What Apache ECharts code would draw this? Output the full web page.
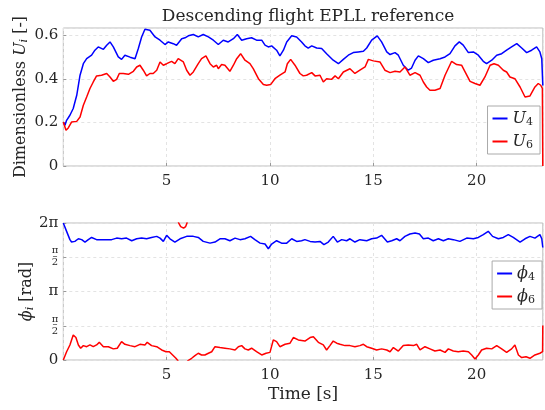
<!DOCTYPE html>
<html>
<head>
<meta charset="utf-8">
<script src="https://cdn.jsdelivr.net/npm/echarts@6/dist/echarts.min.js"></script>
<style>
  html, body { margin: 0; padding: 0; background: #fff; }
  #chart { width: 545px; height: 410px; }
</style>
</head>
<body>
<div id="chart"></div>
<script>
// top panel: dimensionless amplitude U4 / U6 (time in s)
var tU4 = [0, 0.08, 0.16, 0.32, 0.48, 0.65, 0.81, 0.97, 1.13, 1.37, 1.53, 1.69, 1.94, 2.10, 2.26, 2.42, 2.66, 2.82, 2.98, 3.23, 3.47, 3.63, 3.79, 3.95, 4.19, 4.44, 4.68, 4.92, 5.08, 5.32, 5.48, 5.73,
  5.89, 6.05, 6.29, 6.53, 6.77, 7.02, 7.26, 7.50, 7.74, 7.98, 8.23, 8.42, 8.63, 8.87, 9.11, 9.35, 9.60, 9.76, 9.92, 10.08, 10.32, 10.48, 10.65, 10.81, 11.05, 11.29, 11.53, 11.69,
  11.85, 12.02, 12.26, 12.50, 12.74, 13.06, 13.31, 13.55, 13.79, 14.03, 14.27, 14.52, 14.68, 14.92, 15.19, 15.40, 15.65, 15.81, 16.05, 16.21, 16.45, 16.69, 16.85, 17.02, 17.18, 17.26,
  17.42, 17.66, 17.90, 18.23, 18.47, 18.71, 18.95, 19.16, 19.35, 19.60, 19.84, 20.08, 20.32, 20.48, 20.73, 20.97, 21.21, 21.45, 21.69, 21.94, 22.18, 22.42, 22.66, 22.90, 23.06, 23.15, 23.2];
var u4 = [0.200, 0.187, 0.210, 0.233, 0.264, 0.325, 0.417, 0.470, 0.493, 0.509, 0.532, 0.547, 0.536, 0.555, 0.570, 0.547, 0.501, 0.490, 0.509, 0.500, 0.493, 0.540, 0.593, 0.628, 0.624, 0.593, 0.578, 0.558, 0.570, 0.562, 0.555, 0.585,
  0.589, 0.598, 0.604, 0.593, 0.604, 0.593, 0.578, 0.558, 0.578, 0.570, 0.585, 0.604, 0.578, 0.585, 0.589, 0.578, 0.578, 0.555, 0.547, 0.552, 0.532, 0.506, 0.532, 0.570, 0.598, 0.593, 0.570, 0.552,
  0.542, 0.552, 0.542, 0.540, 0.516, 0.486, 0.470, 0.490, 0.509, 0.521, 0.524, 0.527, 0.542, 0.578, 0.598, 0.570, 0.524, 0.512, 0.521, 0.509, 0.463, 0.440, 0.450, 0.486, 0.506, 0.509,
  0.493, 0.475, 0.486, 0.493, 0.501, 0.516, 0.552, 0.570, 0.555, 0.521, 0.524, 0.509, 0.481, 0.470, 0.486, 0.509, 0.516, 0.532, 0.547, 0.562, 0.542, 0.521, 0.532, 0.547, 0.524, 0.493, 0.370];

var tU6 = [0, 0.13, 0.24, 0.40, 0.65, 0.81, 0.97, 1.13, 1.29, 1.45, 1.61, 1.85, 2.10, 2.26, 2.42, 2.58, 2.71, 2.90, 3.15, 3.39, 3.55, 3.71, 3.87, 4.03, 4.19, 4.35, 4.52, 4.68, 4.84, 5.00, 5.24, 5.40, 5.56,
  5.81, 5.97, 6.13, 6.29, 6.53, 6.69, 6.90, 7.10, 7.26, 7.42, 7.50, 7.66, 7.82, 8.06, 8.23, 8.39, 8.58, 8.79, 9.03, 9.19, 9.44, 9.68, 9.84, 10.03, 10.24, 10.48, 10.73, 10.84, 11.00, 11.21, 11.45,
  11.61, 11.77, 12.02, 12.18, 12.42, 12.58, 12.74, 12.98, 13.15, 13.31, 13.55, 13.87, 14.11, 14.35, 14.60, 14.76, 15.00, 15.32, 15.56, 15.81, 16.05, 16.29, 16.53, 16.77, 17.02, 17.26,
  17.42, 17.58, 17.74, 17.98, 18.23, 18.47, 18.79, 19.03, 19.27, 19.44, 19.68, 19.92, 20.16, 20.40, 20.65, 20.84, 21.05, 21.29, 21.45, 21.61, 21.85, 22.10, 22.34, 22.58, 22.82, 22.98, 23.10, 23.18, 23.2];
var u6 = [0.202, 0.164, 0.175, 0.202, 0.205, 0.225, 0.279, 0.317, 0.356, 0.386, 0.414, 0.417, 0.425, 0.409, 0.389, 0.398, 0.425, 0.425, 0.421, 0.435, 0.455, 0.463, 0.440, 0.414, 0.425, 0.425, 0.440, 0.478, 0.463, 0.470, 0.481, 0.470, 0.493,
  0.478, 0.440, 0.417, 0.432, 0.470, 0.493, 0.506, 0.470, 0.455, 0.463, 0.447, 0.466, 0.463, 0.435, 0.463, 0.493, 0.516, 0.486, 0.470, 0.447, 0.401, 0.374, 0.371, 0.374, 0.401, 0.417, 0.432, 0.470, 0.490, 0.463, 0.425,
  0.414, 0.417, 0.429, 0.414, 0.417, 0.386, 0.401, 0.398, 0.414, 0.401, 0.432, 0.447, 0.425, 0.440, 0.455, 0.490, 0.483, 0.478, 0.440, 0.429, 0.435, 0.432, 0.455, 0.417, 0.429, 0.417,
  0.386, 0.363, 0.348, 0.348, 0.356, 0.417, 0.481, 0.466, 0.463, 0.432, 0.389, 0.379, 0.371, 0.409, 0.463, 0.470, 0.463, 0.440, 0.432, 0.409, 0.401, 0.363, 0.317, 0.322, 0.363, 0.379, 0.371, 0.356, 0];

// bottom panel: phase phi4 / phi6 in rad (wrapped to [0, 2pi], null = wrap break)
var tPhi4 = [0, 0.16, 0.32, 0.40, 0.56, 0.73, 0.89, 1.05, 1.21, 1.37, 1.61, 1.85, 2.10, 2.34, 2.58, 2.82, 3.06, 3.31, 3.55, 3.79, 4.03, 4.27, 4.52, 4.68, 4.84, 5.00, 5.16, 5.40, 5.65,
  5.97, 6.29, 6.53, 6.77, 7.10, 7.34, 7.58, 7.82, 8.06, 8.31, 8.55, 8.79, 9.06, 9.27, 9.52, 9.76, 9.92, 10.08, 10.32, 10.56, 10.81, 11.05, 11.29, 11.53,
  11.69, 11.94, 12.18, 12.42, 12.61, 12.82, 13.06, 13.26, 13.47, 13.71, 13.87, 14.11, 14.35, 14.68, 14.92, 15.16, 15.40, 15.68, 15.89, 16.13, 16.29, 16.53, 16.77, 17.02, 17.23,
  17.42, 17.66, 17.90, 18.15, 18.39, 18.63, 18.87, 19.19, 19.52, 19.84, 20.08, 20.32, 20.56, 20.77, 21.05, 21.29, 21.53, 21.77, 22.10, 22.34, 22.58, 22.82, 23.06, 23.15, 23.2];
var phi4 = [6.28, 5.90, 5.52, 5.41, 5.44, 5.56, 5.52, 5.41, 5.52, 5.62, 5.52, 5.52, 5.52, 5.52, 5.59, 5.56, 5.59, 5.47, 5.56, 5.59, 5.56, 5.62, 5.67, 5.59, 5.44, 5.72, 5.56, 5.41, 5.56,
  5.67, 5.67, 5.62, 5.44, 5.36, 5.41, 5.56, 5.56, 5.47, 5.59, 5.52, 5.56, 5.67, 5.52, 5.36, 5.32, 5.10, 5.32, 5.47, 5.36, 5.36, 5.56, 5.44, 5.47,
  5.52, 5.44, 5.41, 5.44, 5.29, 5.41, 5.67, 5.41, 5.52, 5.47, 5.56, 5.41, 5.52, 5.47, 5.56, 5.59, 5.72, 5.41, 5.47, 5.56, 5.47, 5.67, 5.78, 5.82, 5.78,
  5.56, 5.59, 5.47, 5.56, 5.47, 5.56, 5.52, 5.44, 5.59, 5.56, 5.62, 5.75, 5.90, 5.67, 5.56, 5.62, 5.75, 5.62, 5.41, 5.56, 5.67, 5.59, 5.75, 5.56, 5.16];

var tPhi6 = [0, 0.16, 0.32, 0.48, 0.61, 0.73, 0.84, 0.97, 1.13, 1.29, 1.45, 1.61, 1.74, 1.94, 2.18, 2.42, 2.61, 2.82, 2.98, 3.23, 3.47, 3.71, 3.95, 4.06, 4.27, 4.52, 4.76, 4.97, 5.13, 5.29, 5.45, 5.56,
  5.565, 5.56, 5.68, 5.82, 5.92, 6.00, 6.005, 6.00,
  6.05, 6.21, 6.37, 6.53, 6.69, 6.85, 7.02, 7.18, 7.34, 7.58, 7.82, 8.06, 8.31, 8.47, 8.63, 8.79, 8.95, 9.11, 9.35, 9.60, 9.81, 10.00, 10.16, 10.32, 10.48, 10.73, 10.97, 11.13, 11.37, 11.69,
  11.94, 12.10, 12.34, 12.58, 12.74, 12.90, 13.06, 13.23, 13.39, 13.63, 13.87, 14.11, 14.35, 14.52, 14.68, 14.92, 15.16, 15.40, 15.65, 15.81, 15.97, 16.21, 16.45, 16.69, 16.94, 17.10, 17.26,
  17.50, 17.74, 17.98, 18.23, 18.47, 18.63, 18.87, 19.11, 19.35, 19.60, 19.76, 19.92, 20.08, 20.24, 20.48, 20.73, 20.97, 21.21, 21.45, 21.69, 21.85, 22.02, 22.18, 22.39, 22.58, 22.82, 23.06, 23.19, 23.2];
var phi6 = [0, 0.38, 0.69, 1.15, 1.03, 0.69, 0.54, 0.66, 0.61, 0.69, 0.61, 0.69, 0.81, 0.61, 0.61, 0.51, 0.54, 0.84, 0.72, 0.66, 0.61, 0.72, 0.69, 0.81, 0.66, 0.61, 0.46, 0.38, 0.38, 0.23, 0.08, -0.05,
  null, 6.32, 6.12, 6.05, 6.12, 6.32, null, -0.05,
  0.00, 0.08, 0.20, 0.31, 0.23, 0.23, 0.31, 0.38, 0.61, 0.57, 0.54, 0.51, 0.46, 0.61, 0.66, 0.51, 0.46, 0.54, 0.38, 0.23, 0.31, 0.35, 0.92, 0.84, 0.61, 0.72, 0.77, 1.03, 0.92, 0.87,
  1.03, 1.07, 0.81, 0.69, 0.46, 0.66, 0.87, 0.77, 0.72, 0.66, 0.66, 0.61, 0.66, 0.72, 0.61, 0.54, 0.46, 0.51, 0.46, 0.38, 0.57, 0.41, 0.66, 0.69, 0.66, 0.72, 0.46,
  0.61, 0.51, 0.41, 0.46, 0.35, 0.51, 0.41, 0.38, 0.41, 0.38, 0.23, 0.05, 0.23, 0.46, 0.54, 0.51, 0.66, 0.51, 0.35, 0.51, 0.69, 0.23, 0.11, 0.15, 0.08, 0.23, 0.31, 0.38, 1.58];

function pairs(t, v) {
  return t.map(function (x, i) { return [x, v[i]]; });
}

var FONT = 'DejaVu Serif';
var TXT = '#262626';
var GRIDC = '#bdbdbd';

var richLbl = {
  t: { fontFamily: FONT, fontSize: 16, color: TXT },
  it: { fontFamily: FONT, fontSize: 16, fontStyle: 'italic', color: TXT },
  sub: { fontFamily: FONT, fontSize: 11, fontStyle: 'normal', color: TXT, verticalAlign: 'bottom', padding: [6, 0, 0, 0] },
  subi: { fontFamily: FONT, fontSize: 11, fontStyle: 'italic', color: TXT, verticalAlign: 'bottom', padding: [6, 0, 0, 0] }
};

var piLabels = ['0', '{n|π}\n{b|–}\n{d|2}', 'π', '{n|π}\n{b|–}\n{d|2}', '2π'];

function xAxisCfg(idx, withName) {
  return {
    gridIndex: idx, type: 'value', min: 0, max: 23.2, interval: 5,
    axisLine: { show: false },
    axisTick: { inside: true, length: 3, lineStyle: { color: '#999' } },
    axisLabel: { showMinLabel: false, showMaxLabel: false, margin: 8, fontFamily: FONT, fontSize: 15, color: TXT },
    splitLine: { show: true, lineStyle: { color: '#e3e3e3', type: [3, 3], width: 1 } },
    name: withName ? 'Time [s]' : '',
    nameLocation: 'middle', nameGap: 26, nameMoveOverlap: false,
    nameTextStyle: { fontFamily: FONT, fontSize: 17, color: TXT }
  };
}

var chart = echarts.init(document.getElementById('chart'), null, { renderer: 'canvas' });
chart.setOption({
  animation: false,
  backgroundColor: '#fff',
  title: {
    text: 'Descending flight EPLL reference',
    left: 303, top: 3, textAlign: 'center',
    textStyle: { fontFamily: FONT, fontSize: 17, fontWeight: 'normal', color: TXT }
  },
  grid: [
    { left: 63.3, top: 28, width: 479.5, height: 138, show: true, borderColor: GRIDC, borderWidth: 1, backgroundColor: 'transparent' },
    { left: 63.3, top: 223, width: 479.5, height: 137, show: true, borderColor: GRIDC, borderWidth: 1, backgroundColor: 'transparent' }
  ],
  xAxis: [xAxisCfg(0, false), xAxisCfg(1, true)],
  yAxis: [
    {
      gridIndex: 0, type: 'value', min: 0, max: 0.634, interval: 0.2,
      axisLine: { show: false },
      axisTick: { inside: true, length: 3, lineStyle: { color: '#999' } },
      axisLabel: {
        showMaxLabel: false, margin: 5, fontFamily: FONT, fontSize: 15, color: TXT,
        formatter: function (v) { return v === 0 ? '0' : v.toFixed(1); }
      },
      splitLine: { show: true, lineStyle: { color: '#e3e3e3', type: [3, 3], width: 1 } },
      name: '{t|Dimensionless }{it|U}{subi|i}{t| [-]}',
      nameLocation: 'middle', nameRotate: 90, nameGap: 34, nameMoveOverlap: false,
      nameTextStyle: { rich: richLbl }
    },
    {
      gridIndex: 1, type: 'value', min: 0, max: Math.PI * 2, interval: Math.PI / 2,
      axisLine: { show: false },
      axisTick: { inside: true, length: 3, lineStyle: { color: '#999' } },
      axisLabel: {
        margin: 5, fontFamily: FONT, fontSize: 15, color: TXT,
        formatter: function (v) {
          var k = Math.round(v / (Math.PI / 2));
          return piLabels[k] || '';
        },
        rich: {
          n: { fontFamily: FONT, fontSize: 10, lineHeight: 8, color: TXT, align: 'center' },
          b: { fontFamily: FONT, fontSize: 10, lineHeight: 3, color: TXT, align: 'center' },
          d: { fontFamily: FONT, fontSize: 10, lineHeight: 10, color: TXT, align: 'center' }
        }
      },
      splitLine: { show: true, lineStyle: { color: '#e3e3e3', type: [3, 3], width: 1 } },
      name: '{it|ϕ}{subi|i}{t| [rad]}',
      nameLocation: 'middle', nameRotate: 90, nameGap: 28, nameMoveOverlap: false,
      nameTextStyle: { rich: richLbl }
    }
  ],
  legend: [
    {
      data: ['U4', 'U6'], orient: 'vertical', right: 5, top: 106,
      backgroundColor: '#fff', borderColor: '#aaa', borderWidth: 1, borderRadius: 0,
      padding: [3, 7, 3, 5], itemGap: 4, itemWidth: 15, itemHeight: 2, icon: 'rect',
      formatter: function (n) { return '{it|U}{sub|' + n.slice(1) + '}'; },
      textStyle: { rich: richLbl, lineHeight: 19 }
    },
    {
      data: ['phi4', 'phi6'], orient: 'vertical', right: 3, top: 261,
      backgroundColor: '#fff', borderColor: '#aaa', borderWidth: 1, borderRadius: 0,
      padding: [3, 7, 3, 5], itemGap: 4, itemWidth: 15, itemHeight: 2, icon: 'rect',
      formatter: function (n) { return '{it|ϕ}{sub|' + n.slice(3) + '}'; },
      textStyle: { rich: richLbl, lineHeight: 19 }
    }
  ],
  series: [
    { name: 'U4', type: 'line', xAxisIndex: 0, yAxisIndex: 0, data: pairs(tU4, u4), showSymbol: false, color: '#0000ff', lineStyle: { width: 1.5 } },
    { name: 'U6', type: 'line', xAxisIndex: 0, yAxisIndex: 0, data: pairs(tU6, u6), showSymbol: false, color: '#ff0000', lineStyle: { width: 1.5 } },
    { name: 'phi4', type: 'line', xAxisIndex: 1, yAxisIndex: 1, data: pairs(tPhi4, phi4), showSymbol: false, color: '#0000ff', lineStyle: { width: 1.5 } },
    { name: 'phi6', type: 'line', xAxisIndex: 1, yAxisIndex: 1, data: pairs(tPhi6, phi6), showSymbol: false, connectNulls: false, color: '#ff0000', lineStyle: { width: 1.5 } }
  ]
});
</script>
</body>
</html>
